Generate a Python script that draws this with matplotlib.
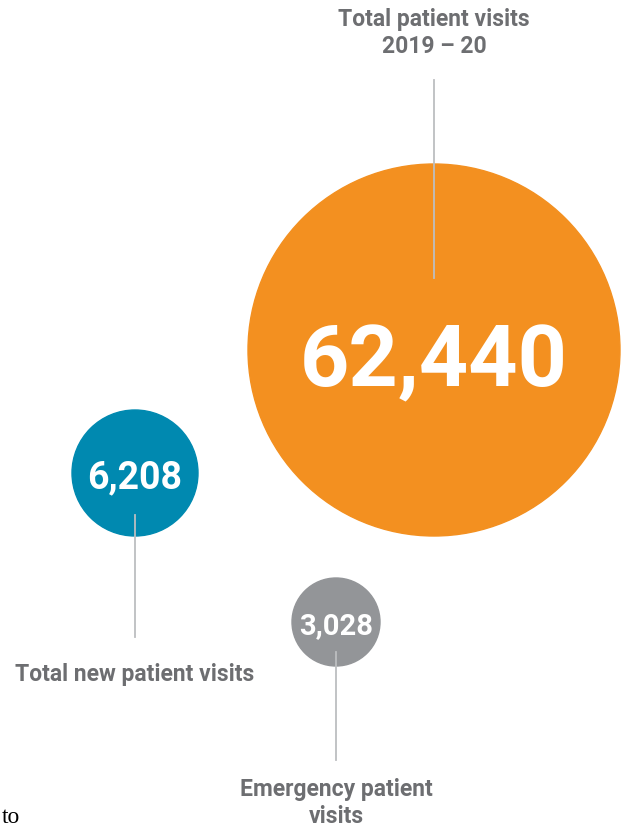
import matplotlib
matplotlib.use("Agg")
import matplotlib.pyplot as plt
from matplotlib.patches import Circle

# data
labels = ["Total patient visits\n2019 – 20", "Total new patient visits", "Emergency patient\nvisits"]
values = [62440, 6208, 3028]
colors = ["#f39020", "#0089b0", "#939598"]

# layout (pixel coordinates, y down)
centers = [(434, 350), (135, 473), (336, 622)]
radii = [186, 63, 44]
num_sizes = [62, 27, 21]
leader = [(80, 278), (515, 637), (652, 760)]
label_y = [33, 675, 803]

W, H = 625, 833
fig = plt.figure(figsize=(W / 100, H / 100), dpi=100)
ax = fig.add_axes([0, 0, 1, 1])
ax.set_xlim(0, W)
ax.set_ylim(H, 0)
ax.set_aspect("equal")
ax.axis("off")

label_font = ["Liberation Sans Narrow", "Roboto", "DejaVu Sans"]
text_grey = "#6d6e71"

for i in range(len(values)):
    cx, cy = centers[i]
    ax.add_patch(Circle((cx, cy), radii[i], color=colors[i], zorder=1))
    # baseline sits a bit below the centre so the digits look centred
    size_px = num_sizes[i] * 100 / 72
    ax.text(cx, cy + 0.42 * size_px, f"{values[i]:,}", color="white",
            fontsize=num_sizes[i], fontweight="bold",
            family=["Roboto", "DejaVu Sans"],
            ha="center", va="baseline", zorder=3)
    ax.plot([cx, cx], leader[i], color="#bcbec0", lw=1.3, zorder=2)
    ax.text(cx, label_y[i], labels[i], color=text_grey, fontsize=16.5,
            fontweight="bold", family=label_font, ha="center", va="center",
            linespacing=1.25)

# stray fragment from the source page
ax.text(2, 823, "to", fontsize=17, family=["Liberation Serif", "DejaVu Serif"],
        color="black", ha="left", va="baseline")

fig.savefig("out.png", dpi=100)
